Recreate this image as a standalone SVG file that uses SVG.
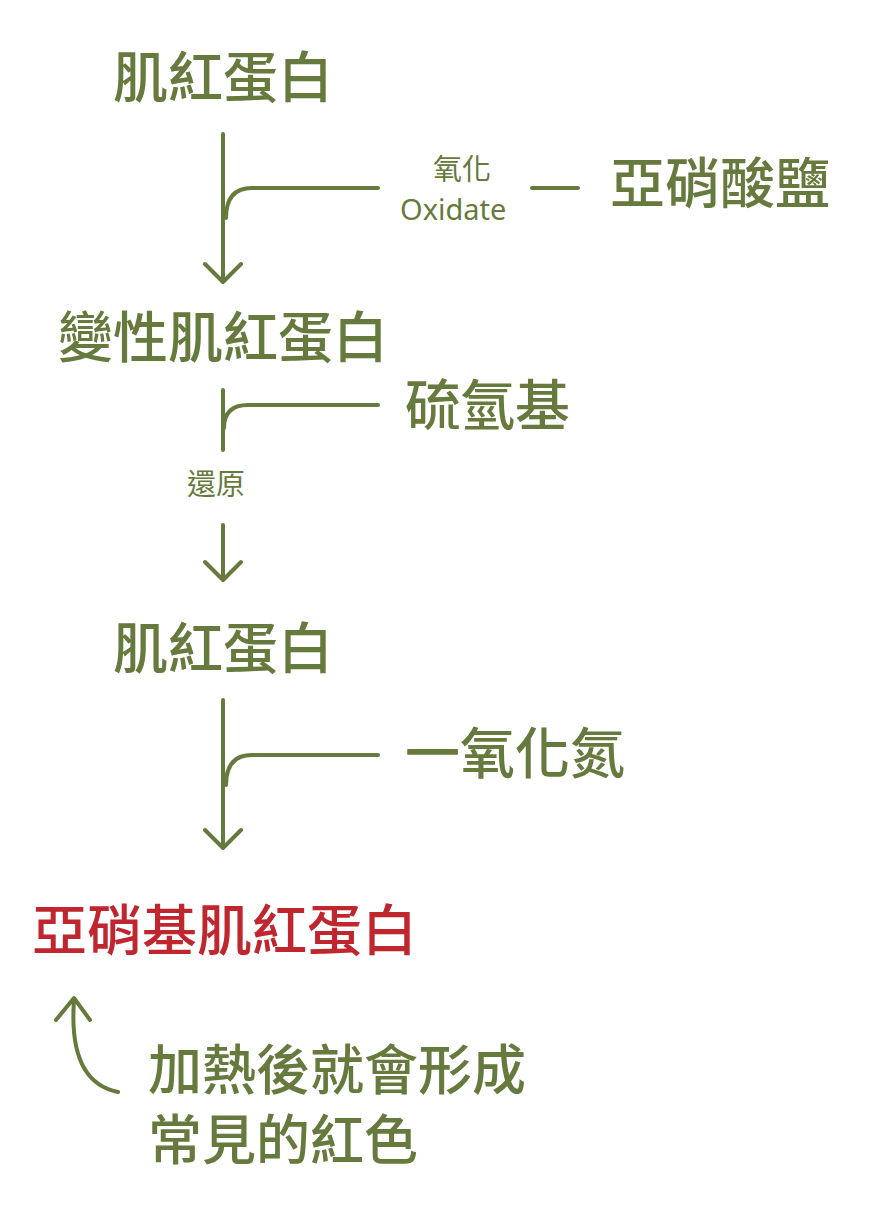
<svg xmlns="http://www.w3.org/2000/svg" width="871" height="1227" viewBox="0 0 871 1227">
<style>
.t{font-family:"Noto Sans CJK TC","Noto Sans",sans-serif;fill:#677a3d;font-weight:500}
.s{font-family:"Noto Sans","Noto Sans CJK TC",sans-serif;fill:#677a3d;font-weight:400}
.c{fill:none;stroke:#677a3d;stroke-width:4;stroke-linecap:round;stroke-linejoin:round}
</style>
<rect width="871" height="1227" fill="#fff"/>
<g id="connectors">
<path class="c" d="M223,134V282M205,264L223,282L241,264"/>
<path class="c" d="M378,188H252Q226,188 226,218"/>
<path class="c" d="M532,188H578"/>
<path class="c" d="M223,390V450"/>
<path class="c" d="M378,405H248Q224,405 224,428"/>
<path class="c" d="M223,525V580M205,562L223,580L241,562"/>
<path class="c" d="M223,700V848M205,830L223,848L241,830"/>
<path class="c" d="M378,755H252Q226,755 226,785"/>
<path class="c" d="M118,1092Q68,1082 74,1000M56,1020L74,998L90,1020"/>
</g>
<g id="n1"><text class="t" x="113" y="97" font-size="55">肌紅蛋白</text></g>
<g id="l1"><text class="s" x="433" y="180" font-size="29">氧化</text><text class="s" x="400" y="220" font-size="29">Oxidate</text></g>
<g id="n2"><text class="t" x="610" y="203" font-size="55">亞硝酸鹽</text></g>
<g id="n3"><text class="t" x="58" y="357" font-size="55">變性肌紅蛋白</text></g>
<g id="n4"><text class="t" x="405" y="425" font-size="55">硫氫基</text></g>
<g id="l2"><text class="s" x="187" y="495" font-size="29">還原</text></g>
<g id="n5"><text class="t" x="113" y="668" font-size="55">肌紅蛋白</text></g>
<g id="n6"><text class="t" x="405" y="773" font-size="55">一氧化氮</text></g>
<g id="n7"><text class="t" x="32" y="950" font-size="55" style="fill:#c0262e">亞硝基肌紅蛋白</text></g>
<g id="n8"><text class="t" x="148" y="1090" font-size="54" font-weight="400">加熱後就會形成</text><text class="t" x="148" y="1160" font-size="54" font-weight="400">常見的紅色</text></g>
</svg>
